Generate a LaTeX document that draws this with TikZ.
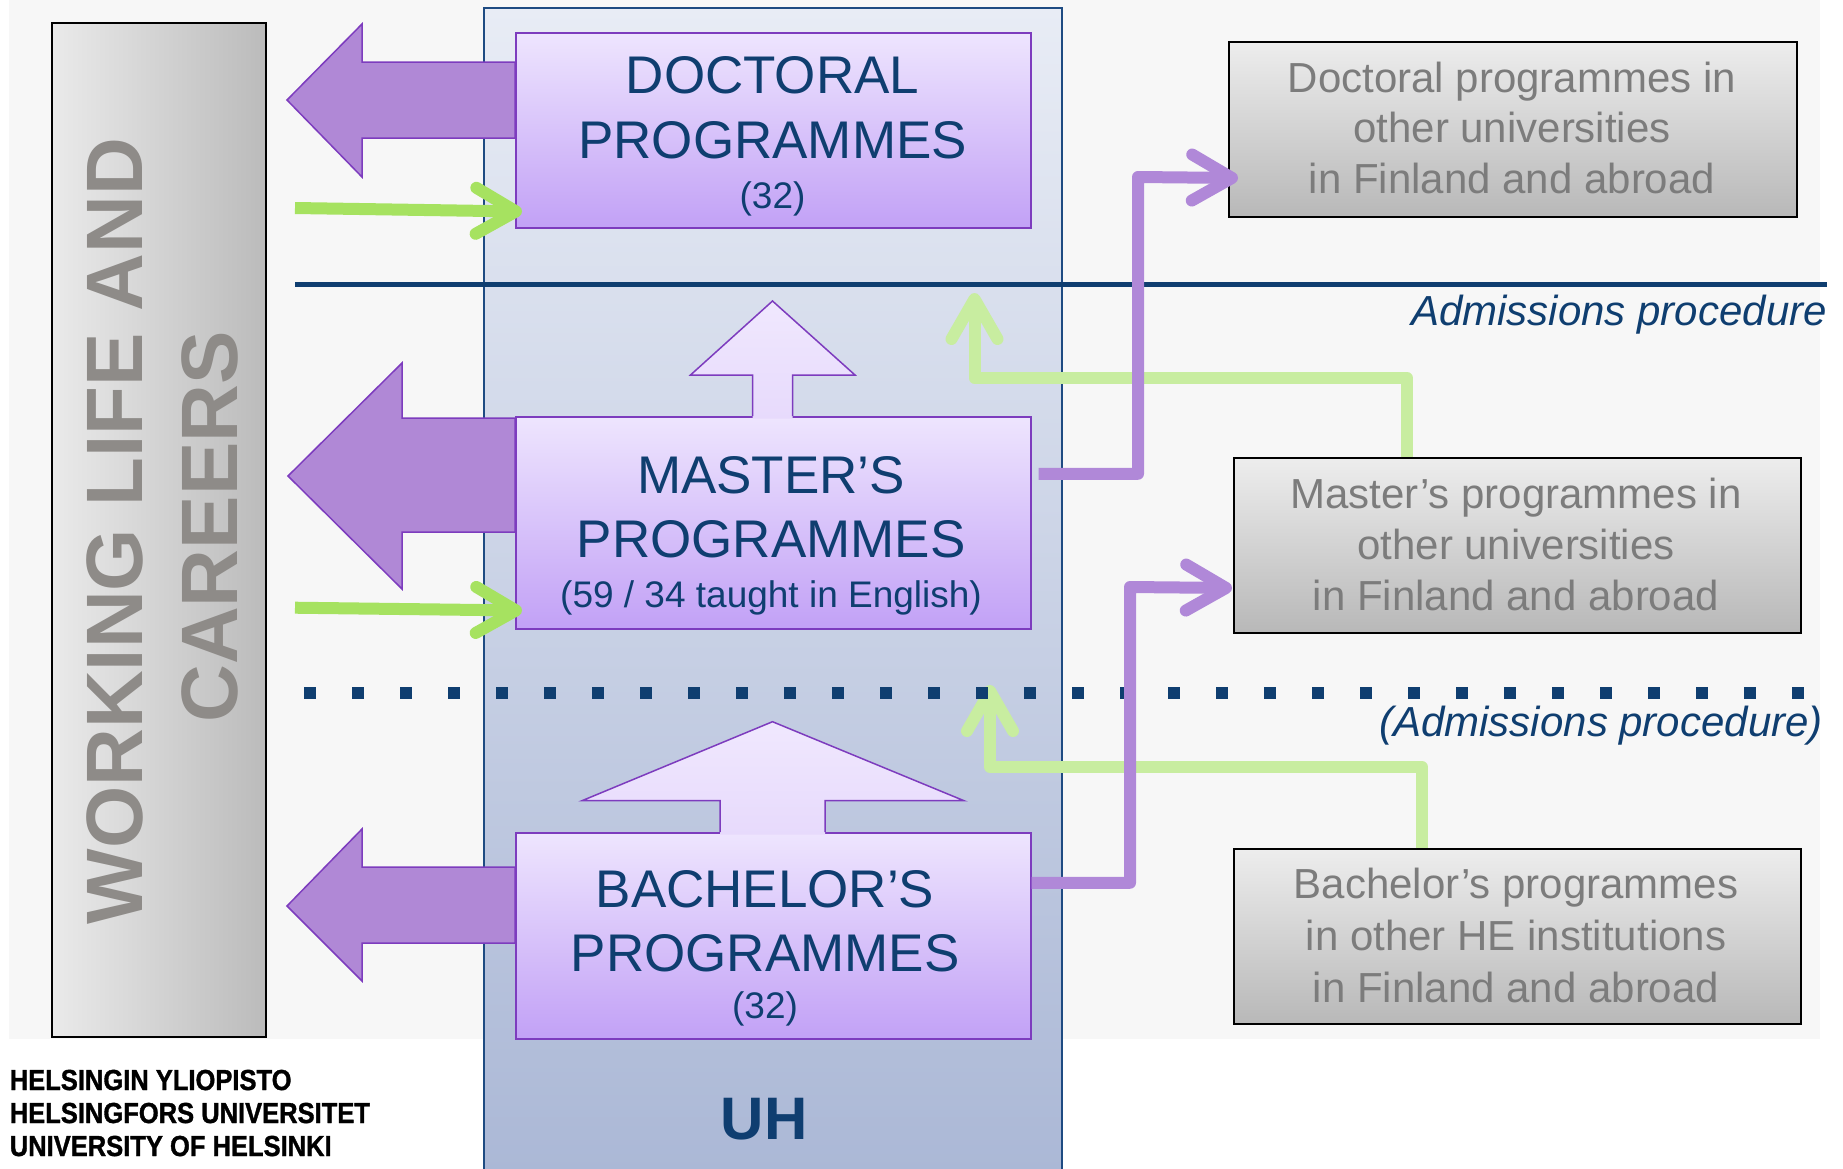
\documentclass[tikz,border=0pt]{standalone}
\usepackage{fontspec}
\setmainfont{Liberation Sans}
\newfontfamily\logofont[FakeStretch=0.88,FakeBold=1.2]{Liberation Sans}
\usetikzlibrary{arrows.meta}
\newcommand\myfs[1]{\fontsize{#1pt}{#1pt}\selectfont}
\definecolor{navy}{RGB}{15,62,112}
\definecolor{boxtop}{RGB}{238,229,254}
\definecolor{boxbot}{RGB}{194,161,246}
\definecolor{boxborder}{RGB}{125,60,190}
\definecolor{arrowfill}{RGB}{176,136,214}
\definecolor{lgreen}{RGB}{200,237,160}
\definecolor{bgreen}{RGB}{166,226,96}
\definecolor{pline}{RGB}{176,136,216}
\definecolor{graytop}{RGB}{237,237,237}
\definecolor{graybot}{RGB}{184,184,184}
\definecolor{graytext}{RGB}{124,124,124}
\definecolor{worktext}{RGB}{142,139,136}
\definecolor{worklft}{RGB}{234,234,234}
\definecolor{workrgt}{RGB}{187,187,187}
\definecolor{uhtop}{RGB}{232,236,245}
\definecolor{uhbot}{RGB}{171,184,214}
\definecolor{uhborder}{RGB}{30,75,130}
\definecolor{bglight}{RGB}{247,247,247}
\definecolor{uptop}{RGB}{240,232,254}
\definecolor{upbot}{RGB}{231,218,252}
\tikzset{
  progbox/.style={draw=boxborder, line width=1.5pt, top color=boxtop, bottom color=boxbot, anchor=north west, inner sep=0, minimum width=515pt},
  otherbox/.style={draw=black, line width=2pt, top color=graytop, bottom color=graybot, anchor=north west, inner sep=0, minimum height=175pt},
  maintext/.style={anchor=base, inner sep=0, text=navy, font=\myfs{53}},
  smalltext/.style={anchor=base, inner sep=0, text=navy, font=\myfs{37}},
  othertext/.style={anchor=base, inner sep=0, text=graytext, font=\myfs{42}},
  worklabel/.style={anchor=base, inner sep=0, text=worktext, font=\bfseries\myfs{80}, rotate=90},
  admtext/.style={anchor=base east, inner sep=0, text=navy, font=\itshape\myfs{42}},
  logotext/.style={anchor=base west, inner sep=0, text=black, font=\logofont\bfseries\myfs{29}},
  bigarrow/.style={fill=arrowfill, draw=boxborder, line width=1.5pt, line join=miter},
  upoutline/.style={draw=boxborder, line width=1.5pt, line join=miter},
  chev/.style={-{Straight Barb[length=40pt,width=46pt,round]}},
  bgarrow/.style={chev, draw=bgreen, line width=12pt},
  lgconn/.style={chev, draw=lgreen, line width=12pt, line join=round},
  pconn/.style={chev, draw=pline, line width=12pt, line join=round},
}
\begin{document}
\begin{tikzpicture}[x=1pt,y=-1pt]
\useasboundingbox (0,0) rectangle (1843,1168);
\fill[white] (0,0) rectangle (1843,1168);
\fill[bglight] (9.4,0) rectangle (1819.5,1039);

% working life box
\node[draw=black, line width=2pt, left color=worklft, right color=workrgt, anchor=north west, inner sep=0, minimum width=214pt, minimum height=1014pt] (work) at (51,22) {};
\node[worklabel] (wl1) at (142,531) {WORKING LIFE AND};
\node[worklabel] (wl2) at (237,527) {CAREERS};

% UH column
\node[draw=uhborder, line width=1.5pt, top color=uhtop, bottom color=uhbot, anchor=north west, inner sep=0, minimum width=578pt, minimum height=1165pt] (uhcol) at (483,7) {};

% admission line
\draw[navy, line width=5.5pt] (295,284.5) -- (1827,284.5);

% big purple arrows to working life
\draw[bigarrow] (515,62) -- (362,62) -- (362,24) -- (287,100) -- (362,177) -- (362,138) -- (515,138) -- cycle;
\draw[bigarrow] (515,418) -- (402,418) -- (402,363) -- (288,476) -- (402,589) -- (402,532) -- (515,532) -- cycle;
\draw[bigarrow] (515,867) -- (362,867) -- (362,829) -- (287,906) -- (362,981) -- (362,943) -- (515,943) -- cycle;

% programme boxes
\node[progbox, minimum height=195pt] (doc) at (515,32) {};
\node[progbox, minimum height=212pt] (mas) at (515,416) {};
\node[progbox, minimum height=206pt] (bac) at (515,832) {};

% up arrows
\shade[top color=uptop, bottom color=upbot] (752.7,418.5) -- (752.7,375) -- (690.5,375) -- (772.5,301) -- (855,375) -- (792.5,375) -- (792.5,418.5) -- cycle;
\draw[upoutline] (752.7,416) -- (752.7,375) -- (690.5,375) -- (772.5,301) -- (855,375) -- (792.5,375) -- (792.5,416);
\shade[top color=uptop, bottom color=upbot] (720,834.5) -- (720,800.7) -- (582,800.7) -- (772.5,721.7) -- (964,800.7) -- (825,800.7) -- (825,834.5) -- cycle;
\draw[upoutline] (720,832) -- (720,800.7) -- (582,800.7) -- (772.5,721.7) -- (964,800.7) -- (825,800.7) -- (825,832);

% programme texts
\node[maintext] (docl1) at (772.5,93) {DOCTORAL};
\node[maintext] (docl2) at (772.5,158) {PROGRAMMES};
\node[smalltext] (docl3) at (772.5,208) {(32)};
\node[maintext] (masl1) at (771,493) {MASTER’S};
\node[maintext] (masl2) at (771,557) {PROGRAMMES};
\node[smalltext] (masl3) at (771,607) {(59 / 34 taught in English)};
\node[maintext] (bacl1) at (765,907) {BACHELOR’S};
\node[maintext] (bacl2) at (765,971) {PROGRAMMES};
\node[smalltext] (bacl3) at (765,1018) {(32)};
\node[anchor=base, inner sep=0, text=navy, font=\bfseries\myfs{60}] (uh) at (764,1139) {UH};

% other institutions boxes
\node[otherbox, minimum width=568pt] (do) at (1228,41) {};
\node[otherbox, minimum width=567pt] (mo) at (1233,457) {};
\node[otherbox, minimum width=567pt] (bo) at (1233,848) {};
\node[othertext] (dol1) at (1512,92) {Doctoral programmes in};
\node[othertext] (dol2) at (1512,142) {other universities};
\node[othertext] (dol3) at (1512,193) {in Finland and abroad};
\node[othertext] (mol1) at (1516,508) {Master’s programmes in};
\node[othertext] (mol2) at (1516,559) {other universities};
\node[othertext] (mol3) at (1516,610) {in Finland and abroad};
\node[othertext] (bol1) at (1516,898) {Bachelor’s programmes};
\node[othertext] (bol2) at (1516,950) {in other HE institutions};
\node[othertext] (bol3) at (1516,1002) {in Finland and abroad};

% admissions labels
\node[admtext] (adm1) at (1827,325) {Admissions procedure};
\node[admtext] (adm2) at (1823,736) {(Admissions procedure)};

% bright green arrows from working life
\coordinate (bg1start) at (295,208);
\coordinate (bg2start) at (295,607.7);
\draw[bgarrow] (bg1start) -- ([xshift=7pt,yshift=17pt]doc.south west);
\draw[bgarrow] (bg2start) -- ([xshift=7pt,yshift=19pt]mas.south west);

% light green connectors from other institutions
\coordinate (g1turn) at (974.5,378);
\coordinate (g1tip) at (974.5,293);
\coordinate (g2turn) at (990,767);
\coordinate (g2tip) at (990,685);
\draw[lgconn] ([xshift=-110.5pt]mo.north) |- (g1turn) -- (g1tip);
\draw[lgconn] ([xshift=-95.5pt]bo.north) |- (g2turn) -- (g2tip);

% dotted admissions line
\draw[navy, line width=12pt, dash pattern=on 12pt off 36pt] (304,692.7) -- (1806,692.7);

% purple connectors to other institutions
\coordinate (p1corner) at (1138,177);
\coordinate (p2corner) at (1130,587);
\draw[pconn] ([xshift=7pt,yshift=49pt]mas.east) -| (p1corner) -- ([xshift=10pt,yshift=-48.5pt]do.west);
\draw[pconn] ([yshift=53pt]bac.east) -| (p2corner) -- ([xshift=-1pt,yshift=-42.5pt]mo.west);

% logo
\node[logotext] (logo1) at (9.6,1090) {HELSINGIN YLIOPISTO};
\node[logotext] (logo2) at (9.6,1123) {HELSINGFORS UNIVERSITET};
\node[logotext] (logo3) at (9.6,1156) {UNIVERSITY OF HELSINKI};
\end{tikzpicture}
\end{document}
